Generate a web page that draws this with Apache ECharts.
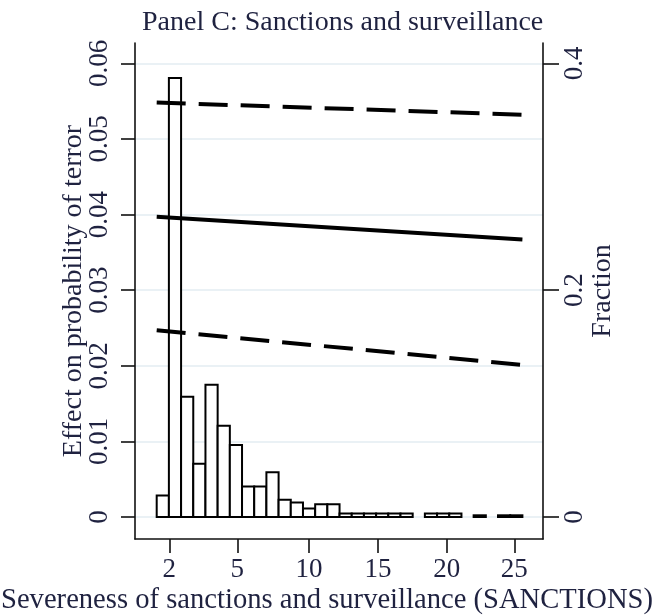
<!DOCTYPE html>
<html>
<head>
<meta charset="utf-8">
<script src="https://cdn.jsdelivr.net/npm/echarts@6/dist/echarts.min.js"></script>
<style>html,body{margin:0;padding:0;background:#fff}#c{width:660px;height:615px}</style>
</head>
<body>
<div id="c"></div>
<script>
// ---- data ----
const titleText = 'Panel C: Sanctions and surveillance';
const xTitle = 'Severeness of sanctions and surveillance (SANCTIONS)';
const yLeftTitle = 'Effect on probability of terror';
const yRightTitle = 'Fraction';

// x axis is in histogram-bin units; SANCTIONS labels sit at these bin positions
const xTickPos = [1.03, 6.61, 12.49, 18.15, 23.79, 29.34];
const xTickLabels = ['2', '5', '10', '15', '20', '25'];

const yLeftTicks = [0, 0.01, 0.02, 0.03, 0.04, 0.05, 0.06];
const yLeftLabels = ['0', '0.01', '0.02', '0.03', '0.04', '0.05', '0.06'];
const yRightTicks = [0, 0.2, 0.4];
const yRightLabels = ['0', '0.2', '0.4'];

// histogram bins (left edge, right edge) and fractions
const binLeft  = [0,1,2,3,4,5,6,7,8,9,10,11,12,13,14,15,16,17,18,19,20,21,22,23,24,25,26,27,28,29];
const binRight = [1,2,3,4,5,6,7,8,9,10,11,12,13,14,15,16,17,18,19,20,21,22,23,24,25,26,27,28,29,30];
const fraction = [0.019, 0.387, 0.106, 0.047, 0.1166, 0.0805, 0.0634, 0.0268, 0.0268, 0.0395,
                  0.0153, 0.0127, 0.0074, 0.0112, 0.0112, 0.003, 0.003, 0.003, 0.003, 0.003,
                  0.003, 0, 0.003, 0.003, 0.003, 0, 0.0015, 0, 0.0015, 0.0015];

// marginal effect line and confidence bands (endpoints)
const lineX = [0, 30];
const effect = [0.0397, 0.0367];
const upperCI = [0.0548, 0.0532];
const lowerCI = [0.0247, 0.0201];

// ---- chart ----
const FONT = 'Liberation Serif';
const TXT = '#1f2240';
const chart = echarts.init(document.getElementById('c'), null, {renderer: 'canvas'});

const histData = binLeft.map((l, i) => [l, binRight[i], fraction[i]]);
const pts = ys => lineX.map((x, i) => [x, ys[i]]);

const axisLineStyle = {color: '#111', width: 1.6};

chart.setOption({
  animation: false,
  backgroundColor: '#fff',
  title: {
    text: titleText, left: 137, top: 4,
    textStyle: {fontFamily: FONT, fontSize: 28, fontWeight: 'normal', color: TXT}
  },
  grid: {left: 135, right: 117, top: 43, bottom: 76, containLabel: false, outerBoundsMode: 'none'},
  xAxis: {
    type: 'value', min: -1.78, max: 31.69,
    axisLine: {show: true, onZero: false, lineStyle: axisLineStyle},
    axisTick: {show: true, customValues: xTickPos, length: 14, lineStyle: axisLineStyle},
    axisLabel: {customValues: xTickPos, margin: 17, fontFamily: FONT, fontSize: 27, color: TXT,
      formatter: v => xTickLabels[xTickPos.indexOf(v)]},
    splitLine: {show: false},
    name: xTitle, nameLocation: 'middle', nameGap: 47, nameMoveOverlap: false,
    nameTextStyle: {fontFamily: FONT, fontSize: 28.6, color: TXT, padding: [0, 24, 0, 0]}
  },
  yAxis: [{
    type: 'value', position: 'left', min: -0.00291, max: 0.06268,
    axisLine: {show: true, onZero: false, lineStyle: axisLineStyle},
    axisTick: {show: true, customValues: yLeftTicks, length: 14, lineStyle: axisLineStyle},
    axisLabel: {customValues: yLeftTicks, rotate: 90, margin: 22, fontFamily: FONT, fontSize: 27, color: TXT,
      formatter: v => yLeftLabels[yLeftTicks.indexOf(v)]},
    splitLine: {show: true, lineStyle: {color: '#e3edf2', width: 1.5}},
    name: yLeftTitle, nameLocation: 'middle', nameGap: 47, nameRotate: 90, nameMoveOverlap: false,
    nameTextStyle: {fontFamily: FONT, fontSize: 28, color: TXT}
  }, {
    type: 'value', position: 'right', min: -0.0194, max: 0.4179,
    axisLine: {show: true, onZero: false, lineStyle: axisLineStyle},
    axisTick: {show: true, customValues: yRightTicks, length: 16, lineStyle: axisLineStyle},
    axisLabel: {customValues: yRightTicks, rotate: 90, margin: 18, fontFamily: FONT, fontSize: 27, color: TXT,
      formatter: v => yRightLabels[yRightTicks.indexOf(v)]},
    splitLine: {show: false},
    name: yRightTitle, nameLocation: 'middle', nameGap: 46, nameRotate: 90, nameMoveOverlap: false,
    nameTextStyle: {fontFamily: FONT, fontSize: 28, color: TXT}
  }],
  series: [{
    type: 'custom', yAxisIndex: 1, z: 1,
    data: histData,
    renderItem: (params, api) => {
      const h = api.value(2);
      if (!h) return null;
      const p0 = api.coord([api.value(0), 0]);
      const p1 = api.coord([api.value(1), h]);
      return {
        type: 'rect',
        shape: {x: p0[0], y: p1[1], width: p1[0] - p0[0], height: p0[1] - p1[1]},
        style: {fill: '#fff', stroke: '#000', lineWidth: 2}
      };
    }
  }, {
    type: 'line', yAxisIndex: 0, z: 3, data: pts(effect), symbol: 'none',
    lineStyle: {color: '#000', width: 4}
  }, {
    type: 'line', yAxisIndex: 0, z: 3, data: pts(upperCI), symbol: 'none',
    lineStyle: {color: '#000', width: 4, type: [29, 13]}
  }, {
    type: 'line', yAxisIndex: 0, z: 3, data: pts(lowerCI), symbol: 'none',
    lineStyle: {color: '#000', width: 4, type: [29, 13]}
  }]
});
</script>
</body>
</html>
